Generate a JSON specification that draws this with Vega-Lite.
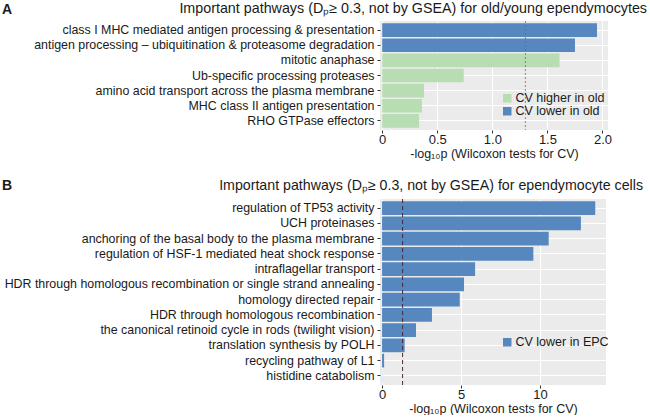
{
  "$schema": "https://vega.github.io/schema/vega-lite/v6.json",
  "padding": {"left": 2, "top": 2, "right": 0, "bottom": 0},
  "background": "white",
  "spacing": 19,
  "resolve": {"scale": {"color": "independent"}, "legend": {"color": "independent"}},
  "config": {
    "font": "Liberation Sans",
    "view": {"fill": "#EBEBEB", "stroke": null},
    "axis": {
      "domain": false,
      "tickColor": "#333333",
      "tickSize": 3,
      "labelColor": "#1a1a1a",
      "titleColor": "#1a1a1a",
      "titleFontWeight": "normal",
      "gridColor": "white",
      "gridWidth": 1,
      "gridOpacity": 1
    },
    "title": {"font": "Liberation Sans", "color": "#1a1a1a"}
  },
  "vconcat": [
    {
      "title": {"text": "A", "anchor": "start", "frame": "bounds", "fontSize": 14, "fontWeight": "bold", "dy": 15, "offset": 0},
      "vconcat": [
        {
          "width": 228,
          "height": 109,
          "title": {"text": "Important pathways (Dₚ≥ 0.3, not by GSEA) for old/young ependymocytes", "anchor": "end", "frame": "group", "dx": 39, "fontSize": 14.3, "fontWeight": "normal", "offset": 4},
          "layer": [
            {
              "data": {"values": [
                {"pathway": "class I MHC mediated antigen processing & presentation", "value": 1.95, "direction": "CV lower in old"},
                {"pathway": "antigen processing – ubiquitination & proteasome degradation", "value": 1.75, "direction": "CV lower in old"},
                {"pathway": "mitotic anaphase", "value": 1.61, "direction": "CV higher in old"},
                {"pathway": "Ub-specific processing proteases", "value": 0.74, "direction": "CV higher in old"},
                {"pathway": "amino acid transport across the plasma membrane", "value": 0.38, "direction": "CV higher in old"},
                {"pathway": "MHC class II antigen presentation", "value": 0.36, "direction": "CV higher in old"},
                {"pathway": "RHO GTPase effectors", "value": 0.335, "direction": "CV higher in old"}
              ]},
              "mark": {"type": "bar"},
              "encoding": {
                "y": {"field": "pathway", "type": "nominal", "sort": null,
                  "scale": {"paddingInner": 0.1, "paddingOuter": 0.15},
                  "axis": {"title": null, "labelFontSize": 12.4, "labelPadding": 3, "bandPosition": 0.5, "grid": true, "minExtent": 378, "maxExtent": 378, "labelLimit": 400}},
                "x": {"field": "value", "type": "quantitative",
                  "scale": {"domain": [-0.02, 2.05], "nice": false, "zero": false},
                  "axis": {"title": "-log₁₀p (Wilcoxon tests for CV)", "titleFontSize": 12.5, "titlePadding": 1, "labelFontSize": 13, "labelPadding": 0, "values": [0, 0.5, 1, 1.5, 2], "labelExpr": "datum.value == 0 ? '0' : format(datum.value, '.1f')", "grid": true}},
                "color": {"field": "direction", "type": "nominal",
                  "scale": {"domain": ["CV higher in old", "CV lower in old"], "range": ["#B8DDB3", "#5687BE"]},
                  "legend": {"orient": "none", "legendX": 121, "legendY": 71, "title": null, "symbolType": "square", "symbolSize": 72, "symbolStrokeWidth": 0, "labelFontSize": 12.5, "labelColor": "#1a1a1a", "rowPadding": -1, "labelOffset": 2}}
              }
            },
            {
              "data": {"values": [{"threshold": 1.3}]},
              "mark": {"type": "rule", "color": "#9c5a5a", "strokeDash": [2, 2], "strokeWidth": 0.8},
              "encoding": {"x": {"field": "threshold", "type": "quantitative"}}
            }
          ]
        }
      ]
    },
    {
      "title": {"text": "B", "anchor": "start", "frame": "bounds", "fontSize": 14, "fontWeight": "bold", "dy": 14, "offset": 0},
      "vconcat": [
        {
          "width": 226,
          "height": 186,
          "title": {"text": "Important pathways (Dₚ≥ 0.3, not by GSEA) for ependymocyte cells", "anchor": "end", "frame": "group", "dx": 37, "fontSize": 14.2, "fontWeight": "normal", "offset": 5},
          "layer": [
            {
              "data": {"values": [
                {"pathway": "regulation of TP53 activity", "value": 13.5, "direction": "CV lower in EPC"},
                {"pathway": "UCH proteinases", "value": 12.59, "direction": "CV lower in EPC"},
                {"pathway": "anchoring of the basal body to the plasma membrane", "value": 10.55, "direction": "CV lower in EPC"},
                {"pathway": "regulation of HSF-1 mediated heat shock response", "value": 9.58, "direction": "CV lower in EPC"},
                {"pathway": "intraflagellar transport", "value": 5.89, "direction": "CV lower in EPC"},
                {"pathway": "HDR through homologous recombination or single strand annealing", "value": 5.19, "direction": "CV lower in EPC"},
                {"pathway": "homology directed repair", "value": 4.92, "direction": "CV lower in EPC"},
                {"pathway": "HDR through homologous recombination", "value": 3.16, "direction": "CV lower in EPC"},
                {"pathway": "the canonical retinoid cycle in rods (twilight vision)", "value": 2.15, "direction": "CV lower in EPC"},
                {"pathway": "translation synthesis by POLH", "value": 1.43, "direction": "CV lower in EPC"},
                {"pathway": "recycling pathway of L1", "value": 0.13, "direction": "CV lower in EPC"},
                {"pathway": "histidine catabolism", "value": 0.01, "direction": "CV lower in EPC"}
              ]},
              "mark": {"type": "bar"},
              "encoding": {
                "y": {"field": "pathway", "type": "nominal", "sort": null,
                  "scale": {"paddingInner": 0.1, "paddingOuter": 0.15},
                  "axis": {"title": null, "labelFontSize": 12.4, "labelPadding": 3, "bandPosition": 0.5, "grid": true, "minExtent": 378, "maxExtent": 378, "labelLimit": 400}},
                "x": {"field": "value", "type": "quantitative",
                  "scale": {"domain": [-0.13, 14.18], "nice": false, "zero": false},
                  "axis": {"title": "-log₁₀p (Wilcoxon tests for CV)", "titleFontSize": 12.5, "titlePadding": 1, "labelFontSize": 13, "labelPadding": 0, "values": [0, 5, 10], "format": "d", "grid": true}},
                "color": {"field": "direction", "type": "nominal",
                  "scale": {"domain": ["CV lower in EPC"], "range": ["#5687BE"]},
                  "legend": {"orient": "none", "legendX": 121, "legendY": 137, "title": null, "symbolType": "square", "symbolSize": 72, "symbolStrokeWidth": 0, "labelFontSize": 12.5, "labelColor": "#1a1a1a", "labelOffset": 2}}
              }
            },
            {
              "data": {"values": [{"threshold": 1.3}]},
              "mark": {"type": "rule", "color": "#4a2a3a", "strokeDash": [4, 3], "strokeWidth": 1},
              "encoding": {"x": {"field": "threshold", "type": "quantitative"}}
            }
          ]
        }
      ]
    }
  ]
}
